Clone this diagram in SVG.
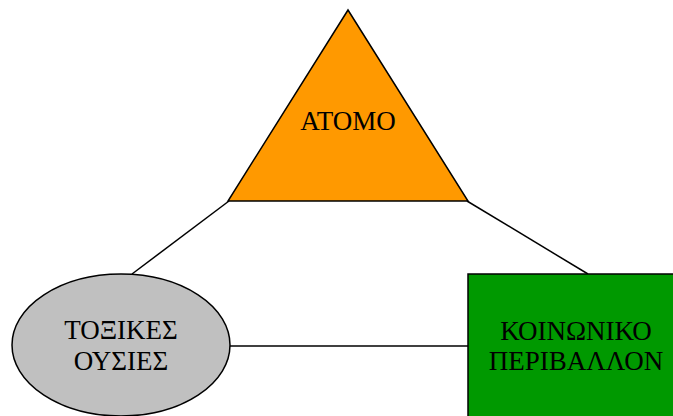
<svg xmlns="http://www.w3.org/2000/svg" width="673" height="416" viewBox="0 0 673 416">
<style>
.s{stroke:#000;stroke-width:1.5}
.t{font-family:"Liberation Serif","Times New Roman",serif;font-size:27px;fill:#000;text-anchor:middle}
</style>
<rect width="673" height="416" fill="#fff"/>
<g id="connectors" class="s" fill="none">
<line x1="229" y1="201" x2="132" y2="274"/>
<line x1="467" y1="201" x2="588" y2="274"/>
<line x1="230" y1="346" x2="468" y2="346"/>
</g>
<g id="atomo">
<polygon class="s" points="348,10 228,201 468,201" fill="#FF9900"/>
<text class="t" x="348" y="130">ΑΤΟΜΟ</text>
</g>
<g id="toxikes">
<ellipse class="s" cx="121" cy="345" rx="109" ry="71" fill="#C0C0C0"/>
<text class="t" x="121" y="339">ΤΟΞΙΚΕΣ</text>
<text class="t" x="121" y="370">ΟΥΣΙΕΣ</text>
</g>
<g id="koinoniko">
<rect class="s" x="468" y="274" width="220" height="160" fill="#009900"/>
<text class="t" x="576" y="340">ΚΟΙΝΩΝΙΚΟ</text>
<text class="t" x="576" y="370">ΠΕΡΙΒΑΛΛΟΝ</text>
</g>
</svg>
